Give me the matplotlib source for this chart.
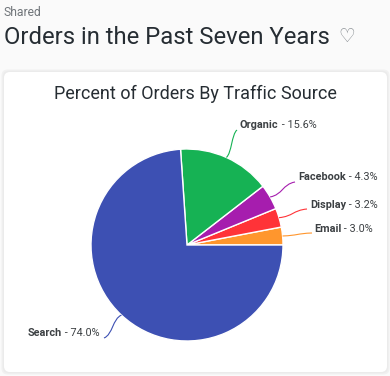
from math import cos, sin, radians
import matplotlib
matplotlib.use('Agg')
import matplotlib.pyplot as plt
from matplotlib.patches import FancyBboxPatch, PathPatch
from matplotlib.path import Path

plt.rcParams['font.family'] = ['Roboto', 'DejaVu Sans']

sources = ['Email', 'Display', 'Facebook', 'Organic', 'Search']
percents = [3.0, 3.2, 4.3, 15.6, 74.0]
colors = ['#ff962d', '#ff3338', '#a61dae', '#16b254', '#3d50b3']

# where each label starts, and where its leader line stops (pixels from top left)
label_pos = [(314, 228.5), (310, 204.5), (298, 176.5), (240, 124.5), (28, 332.5)]
leader_end = [(312, 233), (307, 209), (295, 182), (237, 130), (104, 338)]

W, H = 390, 376
CX, CY, R = 187, 245, 96


def Y(y):
    return H - y


fig = plt.figure(figsize=(W / 100, H / 100), dpi=100, facecolor='#fafafa')
ax = fig.add_axes([0, 0, 1, 1])

# card, with a soft shadow
for grow, col in [(2.5, '#f1f1f1'), (1.2, '#ebebeb')]:
    ax.add_patch(FancyBboxPatch((9 - grow, Y(367) - grow), 373 + 2 * grow, 290 + 2 * grow,
                                boxstyle='round,pad=5,rounding_size=6', fc=col, ec='none'))
ax.add_patch(FancyBboxPatch((9, Y(367)), 373, 290,
                            boxstyle='round,pad=5,rounding_size=6', fc='white', ec='none'))

wedges, _ = ax.pie(percents, colors=colors, startangle=0, counterclock=True,
                   center=(CX, Y(CY)), radius=R, frame=True,
                   wedgeprops={'edgecolor': 'white', 'linewidth': 1})
ax.set_xlim(0, W)
ax.set_ylim(0, H)
ax.set_aspect('auto')
ax.axis('off')

ax.text(4, Y(12), 'Shared', fontsize=8.7, color='#70757a', va='center')
ax.text(4, Y(37), 'Orders in the Past Seven Years', fontsize=17.2, color='#262d33', va='center')
ax.text(347, Y(36), '♡', fontsize=13.5, color='#80868b', ha='center', va='center',
        family=['DejaVu Sans'])
ax.text(195, Y(94), 'Percent of Orders By Traffic Source', fontsize=13, color='#262d33',
        ha='center', va='center')

renderer = fig.canvas.get_renderer()
total = sum(percents)
cum = 0
for name, pct, col, lpos, end in zip(sources, percents, colors, label_pos, leader_end):
    mid = radians((cum + pct / 2) / total * 360)
    cum += pct
    x0, y0 = CX + R * cos(mid), Y(CY) + R * sin(mid)
    x1, y1 = end[0], Y(end[1])

    # S shaped leader from the rim of the slice to the label
    verts = [(x0, y0), ((x0 + x1) / 2, y0 + (y1 - y0) * 0.15),
             ((x0 + x1) / 2, y1 - (y1 - y0) * 0.15), (x1, y1)]
    ax.add_patch(PathPatch(Path(verts, [Path.MOVETO, Path.CURVE4, Path.CURVE4, Path.CURVE4]),
                           fc='none', ec=col, lw=0.8))

    t = ax.text(lpos[0], Y(lpos[1]), name, fontsize=7.8, fontweight='bold',
                color='#3c4043', va='center')
    bb = t.get_window_extent(renderer)
    ax.text(bb.x1, Y(lpos[1]), f' - {pct:.1f}%', fontsize=7.8, color='#3c4043', va='center')

fig.savefig('out.png', dpi=100, facecolor=fig.get_facecolor())
